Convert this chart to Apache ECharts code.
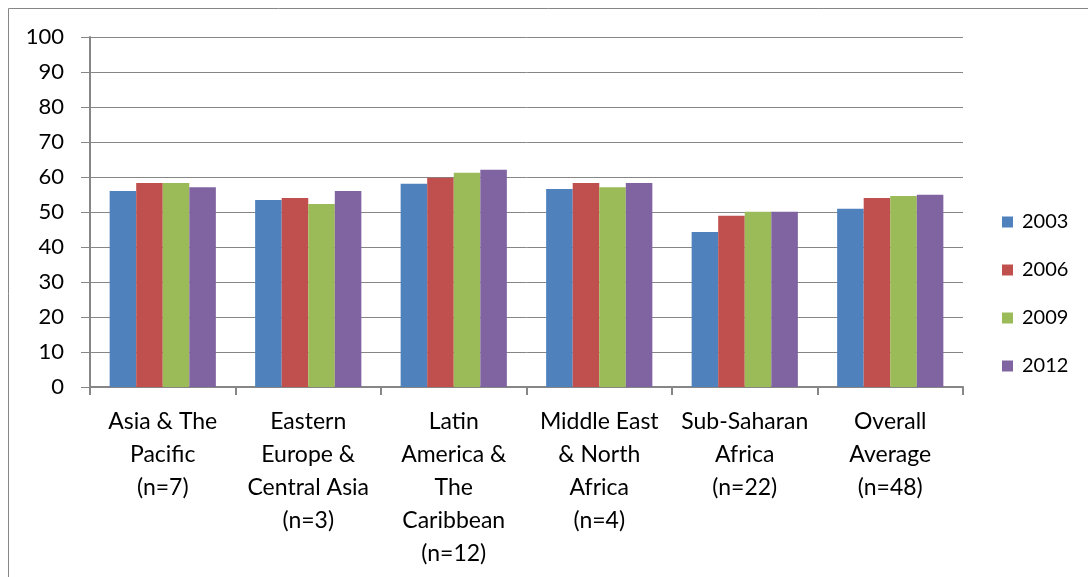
<!DOCTYPE html>
<html>
<head>
<meta charset="utf-8">
<script src="https://cdn.jsdelivr.net/npm/echarts@6/dist/echarts.min.js"></script>
<style>
  html, body { margin: 0; padding: 0; background: #fff; }
  #chart { width: 1088px; height: 577px; }
</style>
</head>
<body>
<div id="chart"></div>
<script>
// Regions with their sample sizes
const categories = [
  'Asia & The\nPacific\n(n=7)',
  'Eastern\nEurope &\nCentral Asia\n(n=3)',
  'Latin\nAmerica &\nThe\nCaribbean\n(n=12)',
  'Middle East\n& North\nAfrica\n(n=4)',
  'Sub-Saharan\nAfrica\n(n=22)',
  'Overall\nAverage\n(n=48)'
];

// Scores per survey year
const values2003 = [56.0, 53.4, 58.1, 56.6, 44.3, 50.9];
const values2006 = [58.3, 54.0, 59.8, 58.3, 48.9, 54.0];
const values2009 = [58.3, 52.3, 61.2, 57.1, 50.1, 54.6];
const values2012 = [57.1, 56.0, 62.1, 58.3, 50.1, 54.9];

const years = ['2003', '2006', '2009', '2012'];
const yTicks = [0, 10, 20, 30, 40, 50, 60, 70, 80, 90, 100];

const colors = ['#4F81BD', '#C0504D', '#9BBB59', '#8064A2'];
const gray = '#868686';
const font = 'Lato, "Liberation Sans", sans-serif';

const chart = echarts.init(document.getElementById('chart'), null, { renderer: 'canvas' });

const seriesData = [values2003, values2006, values2009, values2012];

chart.setOption({
  animation: false,
  color: colors,
  graphic: [{
    type: 'rect',
    shape: { x: 8.5, y: 8.5, width: 1100, height: 600 },
    style: { fill: 'none', stroke: gray, lineWidth: 1 },
    silent: true
  }],
  grid: { left: 90, right: 125, top: 37, bottom: 190, containLabel: false },
  legend: {
    orient: 'vertical',
    left: 997,
    top: 206,
    itemWidth: 11,
    itemHeight: 11,
    itemGap: 26,
    icon: 'rect',
    data: years,
    textStyle: { fontFamily: font, fontSize: 20, color: '#000', lineHeight: 22, padding: [0, 0, 0, 4] }
  },
  xAxis: {
    type: 'category',
    data: categories,
    axisLine: { lineStyle: { color: gray, width: 2 } },
    axisTick: { show: true, length: 8, lineStyle: { color: gray, width: 2 } },
    axisLabel: {
      interval: 0,
      margin: 18,
      fontFamily: font,
      fontSize: 23,
      lineHeight: 33,
      color: '#000'
    }
  },
  yAxis: {
    type: 'value',
    min: yTicks[0],
    max: yTicks[yTicks.length - 1],
    interval: 10,
    axisLine: { show: true, lineStyle: { color: gray, width: 2 } },
    axisTick: { show: true, length: 9, lineStyle: { color: gray, width: 1 } },
    splitLine: { lineStyle: { color: gray, width: 1 } },
    axisLabel: {
      margin: 26,
      fontFamily: font,
      fontSize: 22,
      color: '#000'
    }
  },
  series: years.map((y, i) => ({
    name: y,
    type: 'bar',
    data: seriesData[i],
    barGap: '0%',
    barCategoryGap: '27%',
    itemStyle: { color: colors[i] }
  }))
});
</script>
</body>
</html>
